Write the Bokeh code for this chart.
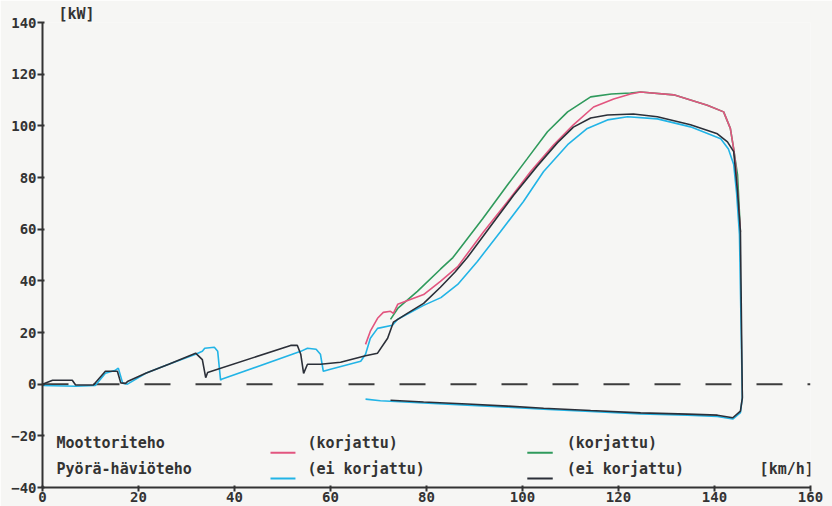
from bokeh.plotting import figure
from bokeh.models import Range1d, FixedTicker, Label
from bokeh.embed import file_html
from bokeh.resources import INLINE

# --- Run 1: corrected (pink) and uncorrected (cyan) engine power, km/h vs kW ---
run1_corr_speed = [67.3, 68.3, 69.8, 71.0, 72.5, 73.1, 74.0, 79.4, 82.9, 86.5, 91.9, 96.9,
                   101.7, 106.5, 110.6, 114.8, 119.0, 122.5, 124.6, 131.5, 138.5, 141.9,
                   143.3, 144.0, 144.4, 145.4]
run1_corr_kw = [15.4, 20.5, 25.5, 27.8, 28.2, 27.4, 30.9, 34.7, 39.8, 45.5, 59.0, 70.7,
                82.3, 92.7, 100.4, 107.3, 110.4, 112.3, 113.1, 112.0, 108.0, 105.4,
                99.0, 91.0, 85.0, 59.0]

run1_raw_speed = [0.0, 6.9, 11.0, 13.1, 15.2, 15.8, 16.7, 17.7, 21.5, 26.3, 31.9, 33.3,
                  33.8, 35.8, 36.5, 37.1, 37.3, 53.8, 55.2, 57.0, 57.9, 58.5, 60.0, 66.3,
                  67.3, 68.3, 69.8, 72.9, 74.0, 79.4, 83.0, 86.5, 89.0, 90.6, 95.4, 100.2,
                  104.4, 109.4, 113.5, 117.7, 121.9, 128.1, 135.0, 141.3, 142.9, 144.0,
                  144.6, 145.2, 145.8, 145.4, 143.8]
run1_raw_kw = [-0.5, -0.8, -0.5, 4.2, 5.4, 6.2, 0.4, 0.0, 4.2, 7.7, 11.6, 12.7,
               13.9, 14.3, 12.7, 1.5, 1.9, 12.7, 13.9, 13.5, 11.6, 5.0, 5.8, 8.9,
               11.6, 17.8, 21.6, 22.8, 25.1, 30.5, 33.5, 38.6, 44.0, 47.5, 59.0, 70.7,
               82.3, 92.7, 99.0, 102.3, 103.5, 102.7, 99.6, 95.0, 91.0, 85.0,
               74.0, 58.0, -5.0, -11.0, -13.5]

# coast-down wheel loss power, run 1
run1_loss_speed = [143.8, 140.6, 134.4, 124.6, 114.2, 104.4, 96.9, 88.5, 79.4, 72.5, 70.4, 67.3]
run1_loss_kw = [-13.5, -12.5, -12.0, -11.5, -10.6, -9.7, -8.9, -8.1, -7.3, -6.6, -6.4, -5.8]

# --- Run 2: corrected (green) and uncorrected (dark) engine power ---
run2_corr_speed = [72.5, 74.0, 78.1, 82.9, 85.5, 91.7, 96.9, 101.0, 105.2, 109.4, 114.2,
                   118.5, 122.5, 124.6, 131.5, 138.5, 141.9, 143.3, 144.0, 144.8, 145.4]
run2_corr_kw = [25.1, 29.3, 35.9, 44.5, 49.0, 64.0, 77.2, 87.3, 97.7, 105.4, 111.2,
                112.3, 112.7, 113.1, 112.0, 108.0, 105.4, 99.0, 91.0, 81.0, 59.0]

run2_raw_speed = [0.0, 2.1, 6.2, 6.9, 10.6, 13.1, 15.6, 16.3, 17.3, 17.7, 21.5, 26.3,
                  31.9, 33.3, 34.0, 34.4, 51.7, 53.1, 53.8, 54.4, 55.2, 57.9, 62.1,
                  67.3, 69.8, 71.9, 73.1, 76.0, 79.4, 82.9, 86.0, 88.5, 93.3, 98.1,
                  103.1, 107.3, 110.6, 114.2, 117.7, 123.1, 128.1, 135.0, 140.6, 142.7,
                  144.0, 144.8, 145.4, 145.8, 145.4, 143.8]
run2_raw_kw = [0.0, 1.5, 1.5, -0.3, -0.3, 5.0, 5.0, 0.5, 0.3, 1.0, 4.2, 7.7,
               12.0, 9.5, 2.5, 4.5, 15.0, 15.0, 11.6, 4.2, 7.7, 7.7, 8.5,
               11.0, 12.0, 17.8, 24.0, 27.4, 31.3, 37.5, 43.5, 49.0, 61.0, 73.0,
               84.5, 93.5, 99.5, 103.0, 104.2, 104.6, 103.5, 100.4, 96.9, 93.8,
               90.0, 74.5, 59.0, -5.4, -10.4, -13.0]

# coast-down wheel loss power, run 2
run2_loss_speed = [143.8, 140.6, 134.4, 124.6, 114.2, 104.4, 96.9, 88.5, 79.4, 72.5]
run2_loss_kw = [-13.0, -12.0, -11.6, -11.1, -10.2, -9.3, -8.5, -7.7, -6.9, -6.2]

x_ticks = [0, 20, 40, 60, 80, 100, 120, 140, 160]
y_ticks = [-40, -20, 0, 20, 40, 60, 80, 100, 120, 140]
zero_line_speed = [0, 160]
zero_line_kw = [0, 0]

PINK = "#e2557f"
CYAN = "#22b4e6"
GREEN = "#2f9a5c"
DARK = "#2b2f38"
INK = "#333333"
PAPER = "#f6f6f4"
FONT = "DejaVu Sans Mono"

p = figure(width=832, height=506, x_range=Range1d(0, 160), y_range=Range1d(-40, 140),
           output_backend="svg", toolbar_location=None,
           min_border_left=42, min_border_right=22, min_border_top=22, min_border_bottom=19)
p.background_fill_color = PAPER
p.border_fill_color = PAPER
p.outline_line_color = None
p.xgrid.visible = False
p.ygrid.visible = False

# unit of the power axis, printed just above the top of the axis
p.title.text = "[kW]"
p.title.text_font = FONT
p.title.text_font_size = "15px"
p.title.text_font_style = "bold"
p.title.text_color = INK
p.title.align = "left"
p.title.offset = 16
p.title.standoff = 0

for ax, ticks in ((p.xaxis, x_ticks), (p.yaxis, y_ticks)):
    ax.ticker = FixedTicker(ticks=ticks)
    ax.minor_tick_line_color = None
    ax.axis_line_color = INK
    ax.axis_line_width = 2
    ax.major_tick_line_color = INK
    ax.major_tick_line_width = 2
    ax.major_label_text_font = FONT
    ax.major_label_text_font_size = "14px"
    ax.major_label_text_font_style = "bold"
    ax.major_label_text_color = INK
p.yaxis.major_tick_out = 5
p.yaxis.major_tick_in = 2
p.yaxis.major_label_standoff = 1
p.xaxis.major_tick_out = 4
p.xaxis.major_tick_in = 2
p.xaxis.major_label_standoff = 0

# zero reference
p.line(zero_line_speed, zero_line_kw, line_color="#3c3c3c", line_width=2, line_dash="26 25")

# power curves followed by the coast-down loss curves
p.line(run2_corr_speed, run2_corr_kw, line_color=GREEN, line_width=1.6)
p.line(run1_corr_speed, run1_corr_kw, line_color=PINK, line_width=1.6)
p.line(run1_raw_speed + run1_loss_speed, run1_raw_kw + run1_loss_kw, line_color=CYAN, line_width=1.6)
p.line(run2_raw_speed + run2_loss_speed, run2_raw_kw + run2_loss_kw, line_color=DARK, line_width=1.6)

# legend block drawn in the lower-left corner of the plot
def note(x, y, text):
    p.add_layout(Label(x=x, y=y, text=text, text_font=FONT, text_font_size="15px",
                       text_font_style="bold", text_color=INK,
                       text_baseline="middle", text_align="left"))

note(2.9, -22.6, "Moottoriteho")
note(2.9, -32.7, "Pyörä-häviöteho")
note(55.2, -22.6, "(korjattu)")
note(55.2, -32.7, "(ei korjattu)")
note(109.2, -22.6, "(korjattu)")
note(109.2, -32.7, "(ei korjattu)")
note(149.4, -32.7, "[km/h]")

p.line([47.5, 52.7], [-26.5, -26.5], line_color=PINK, line_width=2)
p.line([47.5, 52.7], [-36.5, -36.5], line_color=CYAN, line_width=2)
p.line([101.0, 106.3], [-26.5, -26.5], line_color=GREEN, line_width=2)
p.line([101.0, 106.3], [-36.5, -36.5], line_color=DARK, line_width=2)

open("out.html", "w").write(file_html(p, INLINE))
